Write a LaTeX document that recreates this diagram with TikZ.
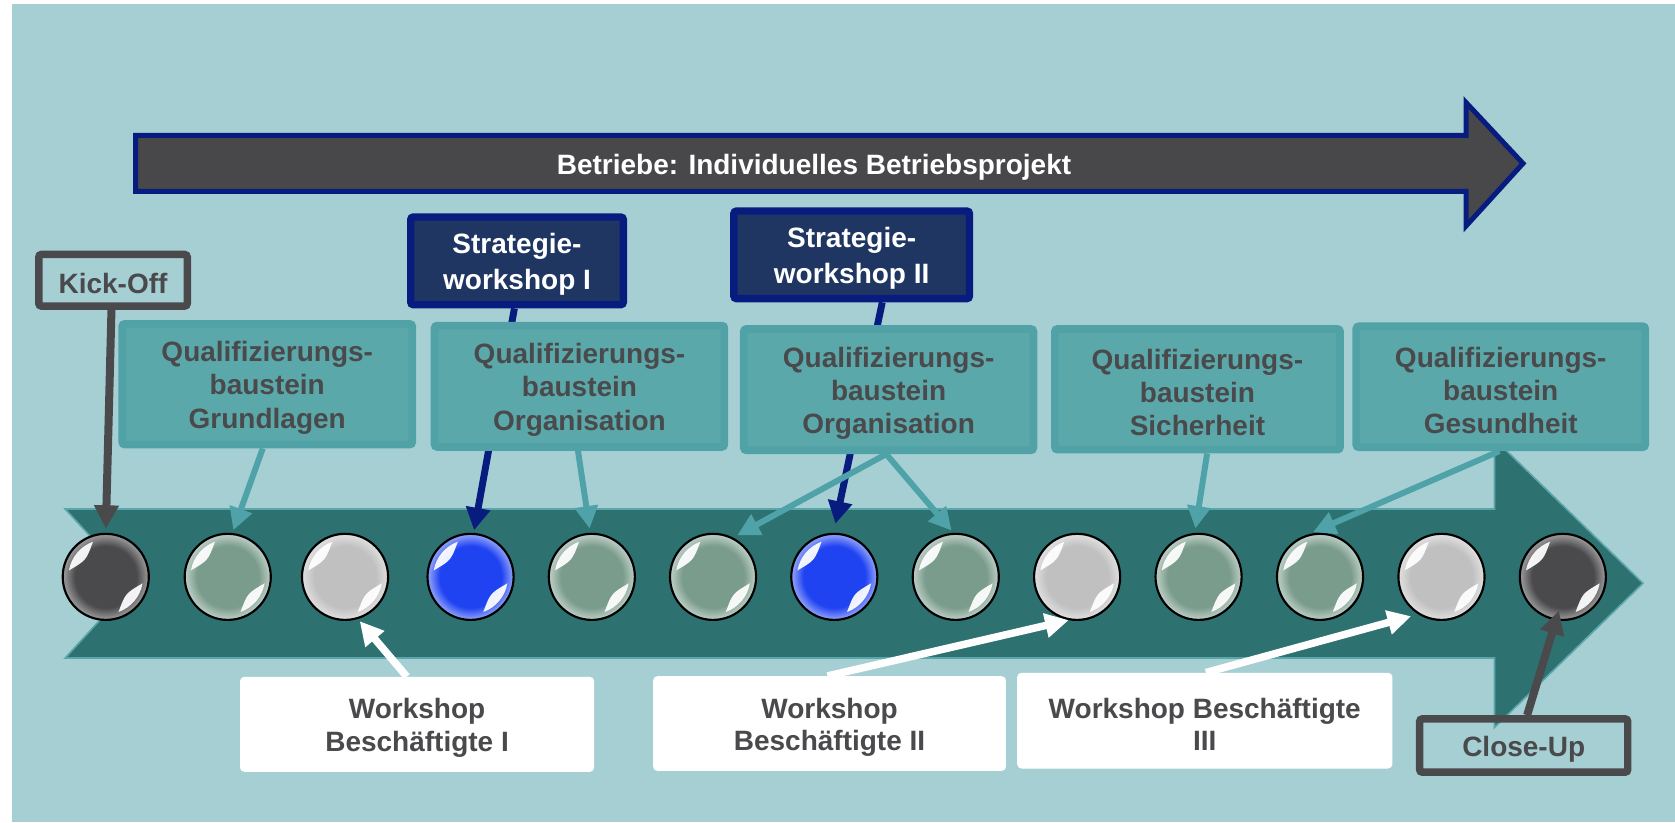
\documentclass[tikz,border=0pt]{standalone}
\usepackage{fontspec}
\setmainfont{Liberation Sans}
\usetikzlibrary{arrows.meta,calc}
\definecolor{bgc}{HTML}{A6CFD4}
\definecolor{tealbig}{HTML}{2D7171}
\definecolor{tealedge}{HTML}{5BA6AA}
\definecolor{qfill}{HTML}{5BA8AA}
\definecolor{qbord}{HTML}{50A2A7}
\definecolor{tealc}{HTML}{4FA3A8}
\definecolor{dgray}{HTML}{4A4A4C}
\definecolor{topfill}{HTML}{48484A}
\definecolor{navyb}{HTML}{081C80}
\definecolor{navyf}{HTML}{1F3662}
\definecolor{cdark}{HTML}{4A4A4C}
\definecolor{cgreen}{HTML}{7A9C8C}
\definecolor{cgray}{HTML}{C0C0C0}
\definecolor{cblue}{HTML}{2043F2}
\colorlet{rdark}{cdark!60!white}
\colorlet{rgreen}{cgreen!55!white}
\colorlet{rgray}{cgray!55!white}
\colorlet{rblue}{cblue!55!white}
\pgfdeclareradialshading{balldark}{\pgfpointorigin}{color(0bp)=(cdark); color(18bp)=(cdark); color(24bp)=(rdark); color(25bp)=(rdark); color(50bp)=(rdark)}
\pgfdeclareradialshading{ballgreen}{\pgfpointorigin}{color(0bp)=(cgreen); color(18bp)=(cgreen); color(24bp)=(rgreen); color(25bp)=(rgreen); color(50bp)=(rgreen)}
\pgfdeclareradialshading{ballgray}{\pgfpointorigin}{color(0bp)=(cgray); color(18bp)=(cgray); color(24bp)=(rgray); color(25bp)=(rgray); color(50bp)=(rgray)}
\pgfdeclareradialshading{ballblue}{\pgfpointorigin}{color(0bp)=(cblue); color(18bp)=(cblue); color(24bp)=(rblue); color(25bp)=(rblue); color(50bp)=(rblue)}
\pgfdeclarelayer{bglayer}
\pgfdeclarelayer{linelayer}
\pgfsetlayers{bglayer,linelayer,main}
\newcommand{\qfont}{\bfseries\fontsize{26.2}{31}\selectfont}
\newcommand{\sfnt}{\bfseries\fontsize{26.2}{33}\selectfont}
\newcommand{\wfont}{\bfseries\fontsize{26.2}{30}\selectfont}
\newcommand{\tup}{\rule{0pt}{25.5pt}}
\begin{document}
\begin{tikzpicture}[x=1pt,y=-1pt,
  qbox/.style={rectangle, rounded corners=2.5pt, draw=qbord, fill=qfill, line width=7.2pt, text=dgray, font=\qfont, align=center, inner sep=0pt},
  sbox/.style={rectangle, rounded corners=2.5pt, draw=navyb, fill=navyf, line width=6.9pt, text=white, font=\sfnt, align=center, inner sep=0pt},
  gbox/.style={rectangle, rounded corners=2.5pt, draw=dgray, line width=7pt, text=dgray, font=\qfont, inner sep=0pt},
  wbox/.style={rectangle, rounded corners=4pt, fill=white, text=dgray, font=\wfont, align=center, inner sep=0pt},
  ball/.style={circle, draw=black, line width=2pt, minimum size=80.6pt, inner sep=0pt, shade},
  gloss/.style={white, opacity=0.93},
  tealcon/.style={draw=tealc, line width=5.6pt, -{Triangle[length=21pt,width=21pt]}},
  navycon/.style={draw=navyb, line width=6.5pt, -{Triangle[length=21pt,width=22pt]}},
  whitecon/.style={draw=white, line width=7pt, -{Triangle[length=22pt,width=22pt]}},
  graycon/.style={draw=dgray, line width=7.5pt, -{Triangle[length=22pt,width=22pt]}}]
\useasboundingbox (0,0) rectangle (1568,769.5);

\begin{pgfonlayer}{bglayer}
\fill[bgc] (11.2,3.7) rectangle (1568,769.5);
% top arrow
\draw[draw=navyb, fill=topfill, line width=4.7pt, miter limit=10]
  (126.9,126.8) -- (1372.4,126.8) -- (1372.4,96) -- (1425.7,153) -- (1372.4,211.5)
  -- (1372.4,179.2) -- (126.9,179.2) -- cycle;
% big teal arrow
\draw[draw=tealedge, fill=tealbig, line width=1.5pt]
  (61,476.5) -- (1399,476.5) -- (1399,411) -- (1538,546) -- (1399,681)
  -- (1399,616) -- (61,616) -- (125,546) -- cycle;
\end{pgfonlayer}

\node[text=white, font=\qfont] (proj) at (762,153) {\tup Betriebe: Individuelles Betriebsprojekt};

% Qualifizierungsbausteine
\node[qbox, minimum width=271.5pt, minimum height=113pt] (q1) at (250.15,359.7) {\tup Qualifizierungs-\\baustein\\Grundlagen};
\node[qbox, minimum width=271.3pt, minimum height=113.6pt] (q2) at (542.45,361.6) {\tup Qualifizierungs-\\baustein\\Organisation};
\node[qbox, minimum width=271.1pt, minimum height=113.6pt] (q3) at (831.85,364.7) {\tup Qualifizierungs-\\baustein\\Organisation};
\node[qbox, minimum width=266.9pt, minimum height=113pt] (q4) at (1120.95,364.4) {\tup Qualifizierungs-\\baustein\\Sicherheit};
\node[qbox, minimum width=270.5pt, minimum height=113.3pt] (q5) at (1404.85,362.05) {\tup Qualifizierungs-\\baustein\\Gesundheit};

% Strategieworkshops
\node[sbox, minimum width=199.1pt, minimum height=82.1pt] (s1) at (484,244.2) {\tup Strategie-\\workshop I};
\node[sbox, minimum width=220.6pt, minimum height=82pt] (s2) at (797.25,238.55) {\tup Strategie-\\workshop II};

% Kick-Off / Close-Up
\node[gbox, minimum width=139pt, minimum height=48.3pt] (kick) at (105.8,262.35) {\tup Kick-Off};
\node[gbox, minimum width=194.8pt, minimum height=49.9pt] (close) at (1426.35,697.9) {\tup Close-Up};

% Workshops Beschaeftigte
\node[wbox, minimum width=331.5pt, minimum height=88.9pt] (w1) at (390.45,678.05) {\tup Workshop\\Besch\"aftigte I};
\node[wbox, minimum width=330.3pt, minimum height=88.6pt] (w2) at (776.55,677.3) {\tup Workshop\\Besch\"aftigte II};
\node[wbox, minimum width=351.2pt, minimum height=89.6pt] (w3) at (1127.8,674.6) {\tup Workshop Besch\"aftigte\\III};

% balls
\foreach \i/\x/\c in {1/99/dark,2/213.2/green,3/323/gray,4/440.5/blue,5/554/green,6/667.5/green,7/781/blue,8/894.7/green,9/1008.3/gray,10/1122/green,11/1235.7/green,12/1349.4/gray,13/1463/dark}{
  \node[ball, shading=ball\c] (b\i) at (\x,540) {};
}
\foreach \i in {1,...,13}{
  \fill[gloss, shift={(b\i)}] (190:35) arc[start angle=190, end angle=250, radius=35] .. controls (220:24) .. (190:35) -- cycle;
  \fill[gloss, shift={(b\i)}] (10:35) arc[start angle=10, end angle=70, radius=35] .. controls (40:24) .. (10:35) -- cycle;
}

% navy connectors (behind boxes)
\begin{pgfonlayer}{linelayer}
\draw[navycon, shorten >=2.5pt] ($(s1.south west)!0.488!(s1.south east)$) -- (b4.86);
\draw[navycon, shorten >=8.7pt] ($(s2.south west)!0.626!(s2.south east)$) -- (b7.91);
\end{pgfonlayer}

% teal connectors
\draw[tealcon, shorten >=2.7pt] ($(q1.south west)!0.485!(q1.south east)$) -- (b2.84);
\draw[tealcon, shorten >=4pt] ($(q2.south west)!0.495!(q2.south east)$) -- (b5.92);
\draw[tealcon, shorten >=4.4pt] ($(q3.south west)!0.492!(q3.south east)$) -- (b6.63);
\draw[tealcon, shorten >=2.7pt] ($(q3.south west)!0.492!(q3.south east)$) -- (b8.93);
\draw[tealcon, shorten >=4.2pt] ($(q4.south west)!0.533!(q4.south east)$) -- (b10.95);
\draw[tealcon, shorten >=6.1pt] ($(q5.south west)!0.4955!(q5.south east)$) -- (b11.107);

% white connectors
\draw[whitecon, shorten >=2.6pt] ($(w1.north west)!0.471!(w1.north east)$) -- (b3.-73.5);
\draw[whitecon] ($(w2.north west)!0.494!(w2.north east)$) -- (b9.-101.5);
\draw[whitecon, shorten >=6.8pt] ($(w3.north west)!0.503!(w3.north east)$) -- (b12.-122.7);

% gray connectors
\draw[graycon, shorten >=3.7pt] ($(kick.south west)!0.49!(kick.south east)$) -- (b1.90);
\draw[graycon, shorten >=-9.6pt] ($(close.north west)!0.516!(close.north east)$) -- (b13.-99.8);
\end{tikzpicture}
\end{document}
